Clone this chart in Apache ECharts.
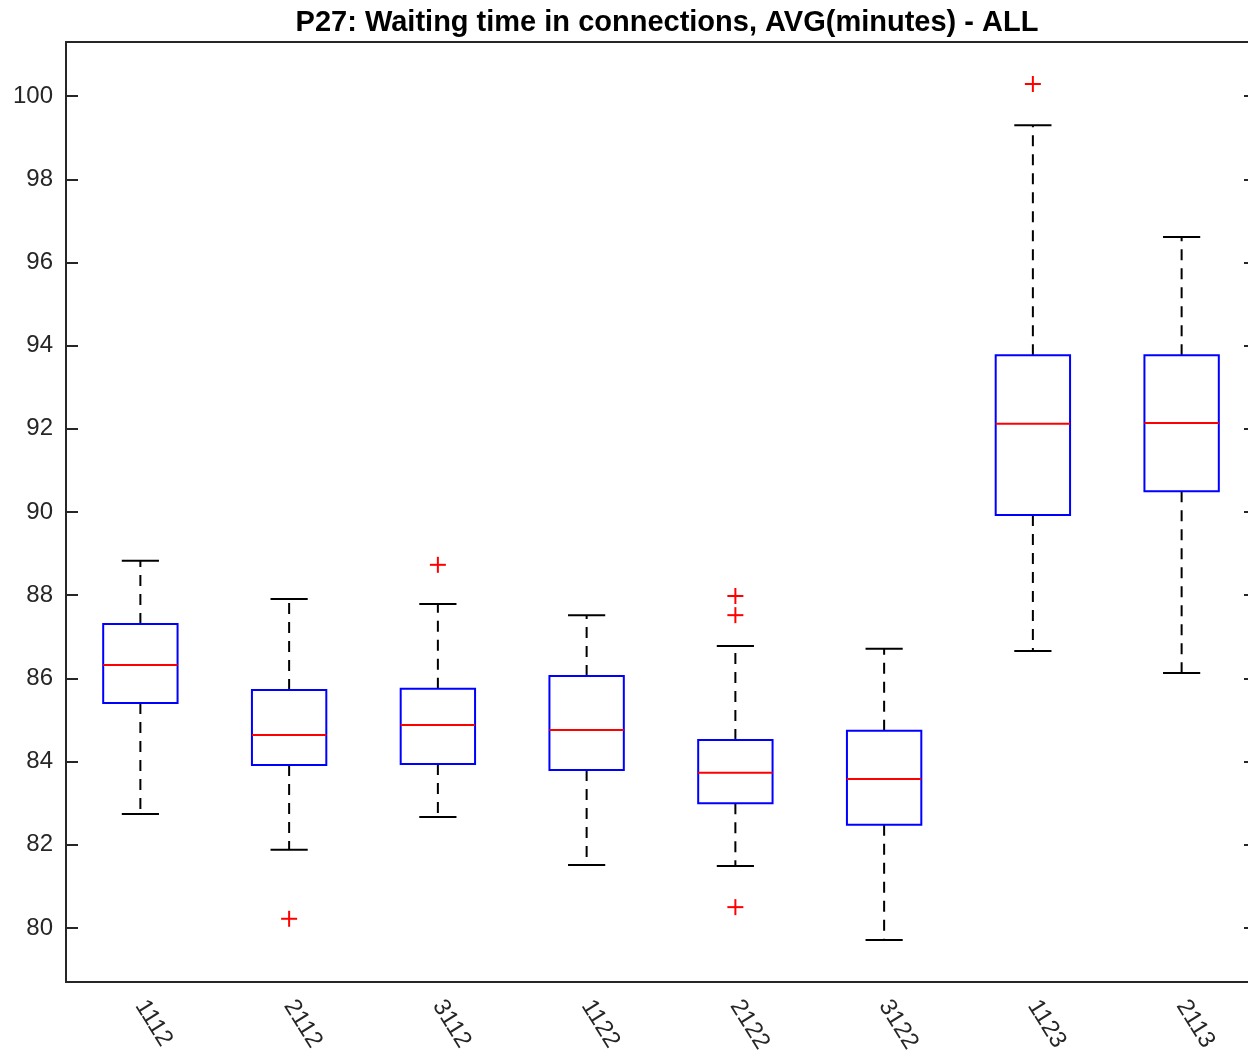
<!DOCTYPE html>
<html>
<head>
<meta charset="utf-8">
<script src="https://cdn.jsdelivr.net/npm/echarts@6/dist/echarts.min.js"></script>
<style>
  html, body { margin: 0; padding: 0; background: #fff; }
  #chart { width: 1248px; height: 1059px; }
</style>
</head>
<body>
<div id="chart"></div>
<script>
// categories on the x axis
var categories = ['1112', '2112', '3112', '1122', '2122', '3122', '1123', '2113'];
// box stats per category: [lower whisker, Q1, median, Q3, upper whisker]
var lowWhisker = [82.74, 81.88, 82.67, 81.51, 81.49, 79.71, 86.66, 86.13];
var q1Values   = [85.41, 83.92, 83.94, 83.80, 83.00, 82.48, 89.93, 90.50];
var medians    = [86.32, 84.64, 84.88, 84.76, 83.73, 83.58, 92.12, 92.14];
var q3Values   = [87.31, 85.72, 85.75, 86.06, 84.52, 84.74, 93.77, 93.77];
var upWhisker  = [88.83, 87.91, 87.79, 87.52, 86.78, 86.71, 99.30, 96.61];
// outliers: [category index, value]
var outliers = [[1, 80.22], [2, 88.73], [4, 87.98], [4, 87.52], [4, 80.50], [6, 100.29]];
var yTicks = [80, 82, 84, 86, 88, 90, 92, 94, 96, 98, 100];

var axisColor = '#262626';
var font = '"Liberation Sans", Arial, Helvetica, sans-serif';

var boxData = categories.map(function (c, i) {
  return [i, lowWhisker[i], q1Values[i], medians[i], q3Values[i], upWhisker[i]];
});

function renderBox(params, api) {
  var idx = api.value(0);
  var pLow = api.coord([idx, api.value(1)]);
  var pQ1 = api.coord([idx, api.value(2)]);
  var pMed = api.coord([idx, api.value(3)]);
  var pQ3 = api.coord([idx, api.value(4)]);
  var pHigh = api.coord([idx, api.value(5)]);
  var band = api.size([1, 0])[0];
  var bw = band * 0.5;
  var cw = bw * 0.5;
  var x = pMed[0];
  var dash = { stroke: '#000', lineWidth: 2, lineDash: [11, 8] };
  var solid = { stroke: '#000', lineWidth: 2 };
  return {
    type: 'group',
    children: [
      { type: 'line', shape: { x1: x, y1: pQ3[1], x2: x, y2: pHigh[1] }, style: dash },
      { type: 'line', shape: { x1: x, y1: pQ1[1], x2: x, y2: pLow[1] }, style: dash },
      { type: 'line', shape: { x1: x - cw / 2, y1: pHigh[1], x2: x + cw / 2, y2: pHigh[1] }, style: solid },
      { type: 'line', shape: { x1: x - cw / 2, y1: pLow[1], x2: x + cw / 2, y2: pLow[1] }, style: solid },
      { type: 'rect', shape: { x: x - bw / 2, y: pQ3[1], width: bw, height: pQ1[1] - pQ3[1] },
        style: { fill: 'none', stroke: '#0000ff', lineWidth: 2 } },
      { type: 'line', shape: { x1: x - bw / 2, y1: pMed[1], x2: x + bw / 2, y2: pMed[1] },
        style: { stroke: '#ff0000', lineWidth: 2 } }
    ]
  };
}

function renderOutlier(params, api) {
  var p = api.coord([api.value(0), api.value(1)]);
  var r = 8;
  var st = { stroke: '#ff0000', lineWidth: 2 };
  return {
    type: 'group',
    children: [
      { type: 'line', shape: { x1: p[0] - r, y1: p[1], x2: p[0] + r, y2: p[1] }, style: st },
      { type: 'line', shape: { x1: p[0], y1: p[1] - r, x2: p[0], y2: p[1] + r }, style: st }
    ]
  };
}

var chart = echarts.init(document.getElementById('chart'));
var option = {
  backgroundColor: '#fff',
  animation: false,
  title: {
    text: 'P27: Waiting time in connections, AVG(minutes) - ALL',
    left: 662,
    textAlign: 'center',
    top: 3,
    textStyle: { fontFamily: font, fontSize: 29, fontWeight: 'bold', color: '#000' }
  },
  grid: { left: 66, right: -8, top: 42, bottom: 77, outerBoundsMode: 'none', containLabel: false },
  xAxis: [
    {
      type: 'category',
      data: categories,
      position: 'bottom',
      axisLine: { lineStyle: { color: axisColor, width: 2 } },
      axisTick: { inside: true, alignWithLabel: true, length: 12, lineStyle: { color: axisColor, width: 2 } },
      axisLabel: { rotate: -58, margin: 20, interval: 0, fontFamily: font, fontSize: 24, color: axisColor },
      splitLine: { show: false }
    },
    {
      type: 'category',
      data: categories,
      position: 'top',
      axisLine: { lineStyle: { color: axisColor, width: 2 } },
      axisTick: { inside: true, alignWithLabel: true, length: 12, lineStyle: { color: axisColor, width: 2 } },
      axisLabel: { show: false },
      splitLine: { show: false }
    }
  ],
  yAxis: [
    {
      type: 'value',
      position: 'left',
      min: 78.7,
      max: 101.3,
      axisLine: { show: true, lineStyle: { color: axisColor, width: 2 } },
      axisTick: { show: true, inside: true, length: 12, customValues: yTicks, lineStyle: { color: axisColor, width: 2 } },
      axisLabel: { margin: 13, fontFamily: font, fontSize: 24, color: axisColor, customValues: yTicks },
      splitLine: { show: false }
    },
    {
      type: 'value',
      position: 'right',
      min: 78.7,
      max: 101.3,
      axisLine: { show: true, lineStyle: { color: axisColor, width: 2 } },
      axisTick: { show: true, inside: true, length: 12, customValues: yTicks, lineStyle: { color: axisColor, width: 2 } },
      axisLabel: { show: false },
      splitLine: { show: false }
    }
  ],
  series: [
    { type: 'custom', renderItem: renderBox, data: boxData, encode: { x: 0, y: [1, 2, 3, 4, 5] }, z: 3 },
    { type: 'custom', renderItem: renderOutlier, data: outliers, encode: { x: 0, y: 1 }, z: 4 }
  ]
};
chart.setOption(option);
</script>
</body>
</html>
